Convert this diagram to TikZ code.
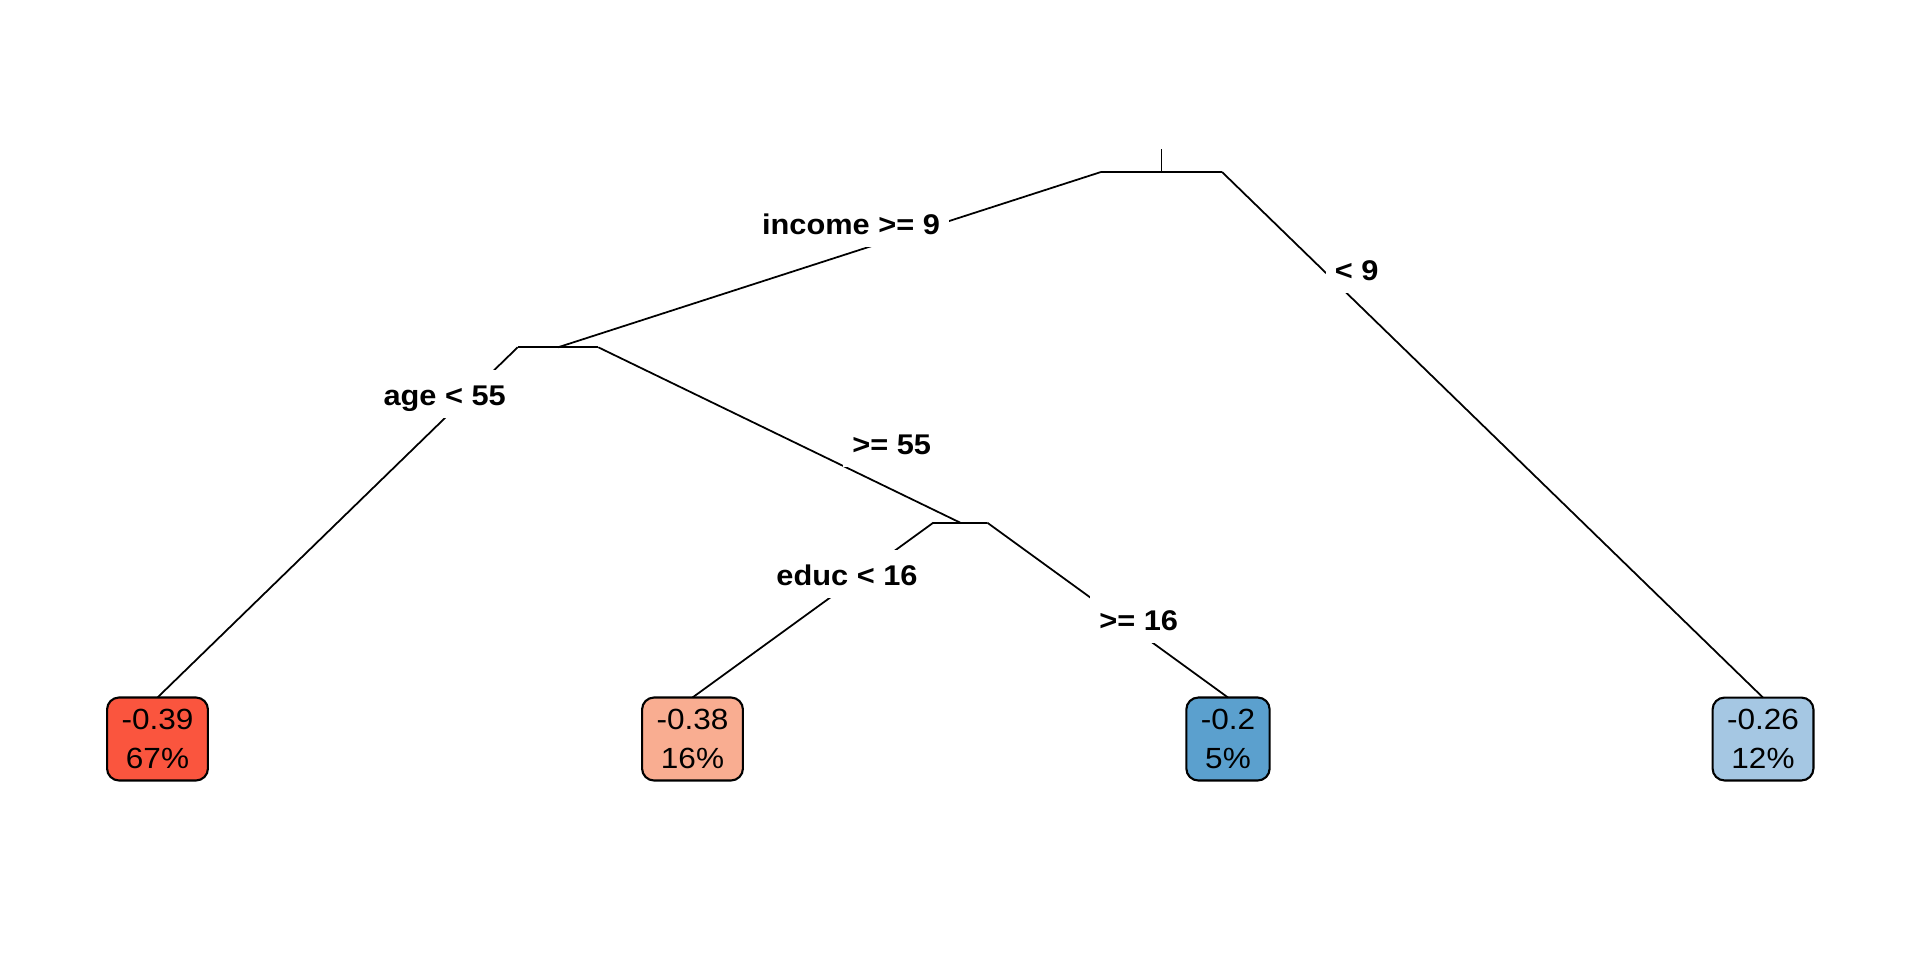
\documentclass[tikz,border=0pt]{standalone}
\usepackage{fontspec}
\setmainfont[FakeStretch=1.08]{Liberation Sans}
\definecolor{leafa}{RGB}{250,85,62}
\definecolor{leafb}{RGB}{249,173,145}
\definecolor{leafc}{RGB}{91,160,206}
\definecolor{leafd}{RGB}{165,199,227}
\begin{document}
\begin{tikzpicture}[x=0.01cm,y=-0.01cm]
                \tikzstyle{every node}+=[inner sep=0pt, outer sep=0pt]
                \tikzstyle{split}=[minimum height=0pt]
                \tikzstyle{leaf}=[draw=black, line width=0.6pt, rounded corners=0.12cm, align=center, inner xsep=0.145cm, inner ysep=0.12cm, font=\fontsize{8.3}{10.9}\selectfont]
                \tikzstyle{rule}=[fill=white, anchor=base, inner xsep=0.09cm, inner ysep=0.13cm, text height=0.22cm, text depth=0cm, font=\fontsize{8.1}{9}\selectfont\bfseries]
                \tikzstyle{edge}=[black, line width=0.5pt]
                \useasboundingbox (0,0) rectangle (1920,960);
                % splits
                \node [split, minimum width=1.21cm] (income) at (1161.5,172) {};
                \node [split, minimum width=0.806cm] (age) at (558,347.3) {};
                \node [split, minimum width=0.54cm] (educ) at (960.3,522.7) {};
                \coordinate (top) at (1161.5,149);
                % leaves
                \node [leaf, fill=leafa] (lowage) at (157.5,739) {-0.39\\67\%};
                \node [leaf, fill=leafb] (loweduc) at (692.5,739) {-0.38\\16\%};
                \node [leaf, fill=leafc] (higheduc) at (1228,739) {-0.2\\5\%};
                \node [leaf, fill=leafd] (lowincome) at (1763,739) {-0.26\\12\%};
                % branches
                \draw [edge] (top) -- (income.center);
                \draw [edge] (income.west) -- (income.east);
                \draw [edge] (age.west) -- (age.east);
                \draw [edge] (educ.west) -- (educ.east);
                \draw [edge] (income.west) -- (age.center);
                \draw [edge] (income.east) -- (lowincome.north);
                \draw [edge] (age.west) -- (lowage.north);
                \draw [edge] (age.east) -- (educ.center);
                \draw [edge] (educ.west) -- (loweduc.north);
                \draw [edge] (educ.east) -- (higheduc.north);
                % split labels
                \node [rule] (incomeyes) at (851,234) {income >= 9};
                \node [rule] (incomeno) at (1356.7,280) {< 9};
                \node [rule] (ageyes) at (444.7,405) {age < 55};
                \node [rule] (ageno) at (891.7,454.3) {>= 55};
                \node [rule] (educyes) at (847,585) {educ < 16};
                \node [rule] (educno) at (1138.7,630) {>= 16};
            \end{tikzpicture}
\end{document}
